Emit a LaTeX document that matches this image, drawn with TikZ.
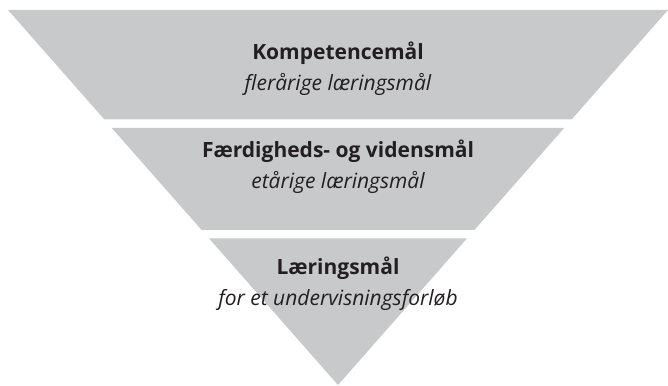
\documentclass[tikz,border=0pt]{standalone}
\usepackage{fontspec}
\setmainfont{Open Sans}
\definecolor{band}{HTML}{C8C9CB}
\definecolor{ink}{HTML}{231F20}
\begin{document}
\begin{tikzpicture}[x=1pt,y=1pt,
  title/.style={anchor=base,inner sep=0pt,text=ink,font=\fontsize{21}{25}\selectfont\bfseries},
  sub/.style={anchor=base,inner sep=0pt,text=ink,font=\fontsize{21}{25}\selectfont\itshape}]
\useasboundingbox (0,0) rectangle (668,385);
\fill[band] (8,375) -- (668,375) -- (571.6,265.5) -- (104.4,265.5) -- cycle;
\fill[band] (111.8,257) -- (564.2,257) -- (474.4,155) -- (201.6,155) -- cycle;
\fill[band] (209.1,146.5) -- (466.9,146.5) -- (338,0) -- cycle;
\node[title] (t1) at (338,325.7) {Kompetencemål};
\node[sub] (s1) at (338,294) {flerårige læringsmål};
\node[title] (t2) at (338,227.7) {Færdigheds- og vidensmål};
\node[sub] (s2) at (338,196) {etårige læringsmål};
\node[title] (t3) at (338,110.7) {Læringsmål};
\node[sub] (s3) at (338,79) {for et undervisningsforløb};
\end{tikzpicture}
\end{document}
